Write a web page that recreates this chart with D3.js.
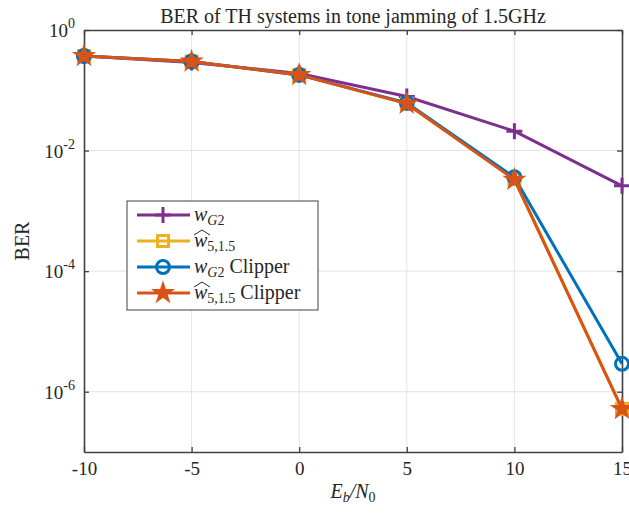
<!DOCTYPE html>
<html>
<head>
<meta charset="utf-8">
<script src="https://cdn.jsdelivr.net/npm/d3@7"></script>
<style>
 body { margin:0; background:#fff; }
 text { font-family:"Liberation Serif","DejaVu Serif",serif; fill:#262626; }
</style>
</head>
<body>
<script>
 // data
 var ebno = [-10, -5, 0, 5, 10, 15];
 var berG2 = [0.37, 0.29, 0.19, 0.079, 0.021, 0.0026];
 var berW515 = [0.37, 0.30, 0.18, 0.060, 0.0034, 5.2e-7];
 var berG2Clip = [0.37, 0.30, 0.18, 0.062, 0.0036, 2.9e-6];
 var berW515Clip = [0.37, 0.30, 0.18, 0.060, 0.0033, 5.2e-7];
 var xTicks = [-10, -5, 0, 5, 10, 15];
 var yTicks = [1, 1e-2, 1e-4, 1e-6];

 var series = [
   {name:"wG2", values:berG2, color:"#7E2F8E", marker:"plus"},
   {name:"w515", values:berW515, color:"#EDB120", marker:"square"},
   {name:"wG2c", values:berG2Clip, color:"#0072BD", marker:"circle"},
   {name:"w515c", values:berW515Clip, color:"#D95319", marker:"star"}
 ];

 var W = 629, H = 513;
 var L = 84, R = 622, T = 30, B = 452;

 var svg = d3.select("body").append("svg")
   .attr("width", W).attr("height", H)
   .style("background-color", "#fff");

 var x = d3.scaleLinear().domain([-10, 15]).range([L, R]);
 var y = d3.scaleLog().domain([1e-7, 1]).range([B, T]);

 // grid
 svg.append("g").selectAll("line").data(xTicks.slice(1, -1)).enter().append("line")
   .attr("x1", d => x(d)).attr("x2", d => x(d)).attr("y1", T).attr("y2", B)
   .attr("stroke", "#e3e3e3").attr("stroke-width", 1);
 svg.append("g").selectAll("line").data(yTicks.slice(1)).enter().append("line")
   .attr("x1", L).attr("x2", R).attr("y1", d => y(d)).attr("y2", d => y(d))
   .attr("stroke", "#e3e3e3").attr("stroke-width", 1);

 // axes
 var xAxis = svg.append("g").attr("transform", "translate(0," + B + ")")
   .call(d3.axisBottom(x).tickValues(xTicks).tickSizeInner(-5).tickSizeOuter(0).tickPadding(10).tickFormat(d => String(d)));
 var xTop = svg.append("g").attr("transform", "translate(0," + T + ")")
   .call(d3.axisTop(x).tickValues(xTicks).tickSizeInner(-5).tickSizeOuter(0).tickFormat(""));
 var yAxis = svg.append("g").attr("transform", "translate(" + L + ",0)")
   .call(d3.axisLeft(y).tickValues(yTicks).tickSizeInner(-5).tickSizeOuter(0).tickFormat(""));
 var yRight = svg.append("g").attr("transform", "translate(" + R + ",0)")
   .call(d3.axisRight(y).tickValues(yTicks).tickSizeInner(-5).tickSizeOuter(0).tickFormat(""));
 [xAxis, xTop, yAxis, yRight].forEach(function(g) {
   g.select(".domain").attr("stroke", "#404040").attr("stroke-width", 1.6);
   g.selectAll(".tick line").attr("stroke", "#404040").attr("stroke-width", 1.3);
 });
 xAxis.selectAll(".tick text").attr("font-size", 19).attr("fill", "#262626")
   .style("font-family", "Liberation Serif, serif");

 // y tick labels 10^n
 var ylab = svg.append("g").selectAll("text").data(yTicks).enter().append("text")
   .attr("x", L - 9).attr("y", d => y(d) + 7)
   .attr("text-anchor", "end").attr("font-size", 19);
 ylab.append("tspan").text("10");
 ylab.append("tspan").attr("dy", -9).attr("font-size", 14)
   .text(d => { var e = Math.round(Math.log10(d)); return String(e); });

 // title and labels
 svg.append("text").attr("x", (L + R) / 2).attr("y", 23).attr("text-anchor", "middle")
   .attr("font-size", 20).text("BER of TH systems in tone jamming of 1.5GHz");
 svg.append("text").attr("transform", "translate(29," + ((T + B) / 2) + ") rotate(-90)")
   .attr("text-anchor", "middle").attr("font-size", 20).text("BER");
 var xl = svg.append("text").attr("x", (L + R) / 2).attr("y", 498).attr("text-anchor", "middle")
   .attr("font-size", 20);
 xl.append("tspan").attr("font-style", "italic").text("E");
 xl.append("tspan").attr("font-style", "italic").attr("font-size", 14).attr("dy", 4).text("b");
 xl.append("tspan").attr("font-style", "italic").attr("dy", -4).text("/N");
 xl.append("tspan").attr("font-size", 14).attr("dy", 4).text("0");

 // markers
 function drawMarker(g, m, color) {
   if (m == "plus") {
     g.append("path").attr("d", "M-8,0H8M0,-8V8").attr("stroke", color).attr("stroke-width", 3).attr("fill", "none");
   } else if (m == "square") {
     g.append("rect").attr("x", -5.5).attr("y", -5.5).attr("width", 11).attr("height", 11)
       .attr("fill", "none").attr("stroke", color).attr("stroke-width", 3);
   } else if (m == "circle") {
     g.append("circle").attr("r", 6.5).attr("fill", "none").attr("stroke", color).attr("stroke-width", 3);
   } else {
     g.append("path").attr("d", d3.symbol().type(d3.symbolStar).size(120)())
       .attr("fill", color).attr("stroke", color).attr("stroke-width", 1.5);
   }
 }

 var line = d3.line().x((d, i) => x(ebno[i])).y(d => y(d));
 series.forEach(function(s) {
   svg.append("path").datum(s.values).attr("d", line)
     .attr("fill", "none").attr("stroke", s.color).attr("stroke-width", 3);
   s.values.forEach(function(v, i) {
     var g = svg.append("g").attr("transform", "translate(" + x(ebno[i]) + "," + y(v) + ")");
     drawMarker(g, s.marker, s.color);
   });
 });

 // legend
 var lg = svg.append("g").attr("transform", "translate(127,201)");
 lg.append("rect").attr("width", 191).attr("height", 109)
   .attr("fill", "#fff").attr("stroke", "#404040").attr("stroke-width", 1);
 var rowY = [14, 40, 66, 92];
 series.forEach(function(s, i) {
   var r = lg.append("g").attr("transform", "translate(0," + rowY[i] + ")");
   r.append("line").attr("x1", 10).attr("x2", 63).attr("stroke", s.color).attr("stroke-width", 3);
   var mg = r.append("g").attr("transform", "translate(36,0)");
   drawMarker(mg, s.marker, s.color);
   var t = r.append("text").attr("x", 67).attr("y", 6).attr("font-size", 20);
   t.append("tspan").attr("font-style", "italic").text("w");
   if (s.name == "wG2" || s.name == "wG2c") {
     t.append("tspan").attr("font-style", "italic").attr("font-size", 14).attr("dy", 4).text("G");
     t.append("tspan").attr("font-size", 14).text("2");
   } else {
     t.append("tspan").attr("font-size", 14).attr("dy", 4).text("5,1.5");
     r.append("path").attr("d", "M67,-6L75,-11L83,-6").attr("fill", "none")
       .attr("stroke", "#262626").attr("stroke-width", 1);
   }
   if (s.name == "wG2c" || s.name == "w515c") {
     t.append("tspan").attr("dy", -4).text(" Clipper");
   }
 });
</script>
</body>
</html>
